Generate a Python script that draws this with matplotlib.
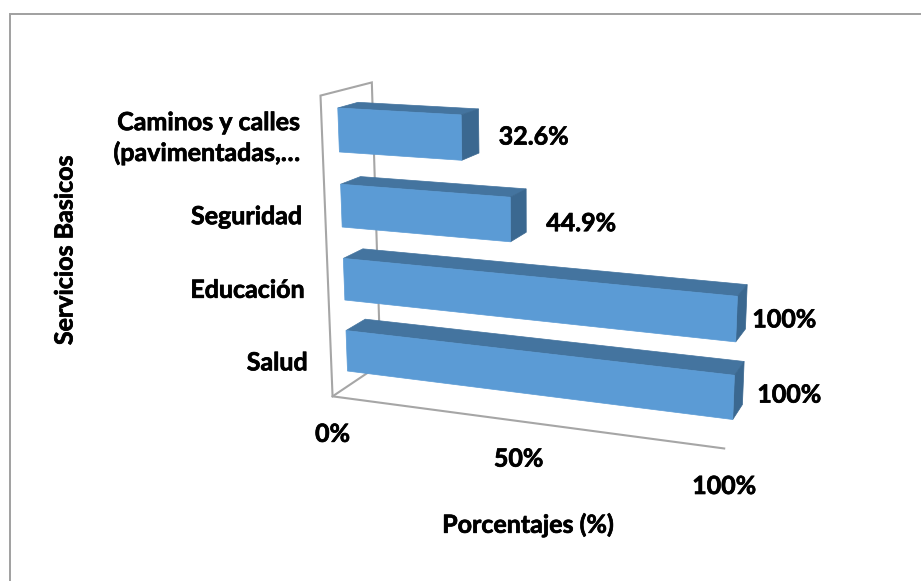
import numpy as np
import matplotlib
matplotlib.use("Agg")
import matplotlib.pyplot as plt
import matplotlib.patheffects as pe
from matplotlib.patches import Polygon

plt.rcParams['font.family'] = ['Lato', 'DejaVu Sans']

categories = ["Salud", "Educación", "Seguridad", "Caminos y calles\n(pavimentadas,…"]
values = [100, 100, 44.9, 32.6]
value_labels = ["100%", "100%", "44.9%", "32.6%"]
ticks = [0, 50, 100]
tick_labels = ["0%", "50%", "100%"]

# camera of the 3D box: (value, height, depth) -> pixels, fitted on the picture
CAMERA = np.array([
    [323.4057, -29.7876, 74.5039, 332.5620],
    [9.8796, -306.0533, -6.6510, 396.3466],
    [-0.094209, -0.055312, 0.069974, 1.0],
])
DEPTH_FRONT, DEPTH_BACK = 0.3089, 0.7055
BAR_START, BAR_STEP, BAR_HEIGHT = 0.0534, 0.2499, 0.1433

FRONT = "#5b9bd5"
TOP = "#44749f"
SIDE = "#3b6890"
GRID = "#a6a6a6"
FS = 18
# Lato bold is a bit lighter than the original font
HEAVY = [pe.withStroke(linewidth=0.5, foreground="black")]


def project(value, height, depth):
    x, y, w = CAMERA @ np.array([value / 100, height, depth, 1.0])
    return x / w, y / w


fig = plt.figure(figsize=(9.21, 5.81), dpi=100)
ax = fig.add_axes([0, 0, 1, 1])
ax.set_xlim(0, 921)
ax.set_ylim(581, 0)
ax.axis("off")

# outer chart border, only top and left show
ax.plot([921, 9.5, 9.5], [13.5, 13.5, 581], color="#a0a0a0", lw=1.4, solid_joinstyle="miter")

# walls of the box
wall = [project(0, 0, 1), project(0, 1, 1), project(0, 1, 0), project(0, 0, 0),
        project(100, 0, 0)]
ax.plot(*zip(*wall), color=GRID, lw=1.5, solid_joinstyle="miter", zorder=1)
ax.plot(*zip(project(0, 0, 0), project(0, 0, 1)), color=GRID, lw=1.5, zorder=1)

# back to front so the lower bars cover the ones behind
for i in reversed(range(len(values))):
    v = values[i]
    lo = BAR_START + i * BAR_STEP
    hi = lo + BAR_HEIGHT
    top = [project(0, hi, DEPTH_FRONT), project(v, hi, DEPTH_FRONT),
           project(v, hi, DEPTH_BACK), project(0, hi, DEPTH_BACK)]
    side = [project(v, hi, DEPTH_FRONT), project(v, lo, DEPTH_FRONT),
            project(v, lo, DEPTH_BACK), project(v, hi, DEPTH_BACK)]
    front = [project(0, hi, DEPTH_FRONT), project(v, hi, DEPTH_FRONT),
             project(v, lo, DEPTH_FRONT), project(0, lo, DEPTH_FRONT)]
    ax.add_patch(Polygon(top, closed=True, fc=TOP, ec=TOP, lw=0.5, zorder=2))
    ax.add_patch(Polygon(side, closed=True, fc=SIDE, ec=SIDE, lw=0.5, zorder=2))
    ax.add_patch(Polygon(front, closed=True, fc=FRONT, ec=FRONT, lw=0.5, zorder=3))

# data labels, offset from the far end of each bar
label_offsets = [(46, 12), (38, 13), (55, 13), (55, 6)]
for i, v in enumerate(values):
    mid = BAR_START + i * BAR_STEP + BAR_HEIGHT / 2
    x, y = project(v, mid, DEPTH_BACK)
    ax.text(x + label_offsets[i][0], y + label_offsets[i][1], value_labels[i],
            ha="center", va="center", fontsize=FS, fontweight="bold", color="black",
            path_effects=HEAVY)

# category labels, right aligned at the left of the wall
cat_offsets = [(-39, 12), (-39, 11), (-39, 11), (-38, 8)]
for i, name in enumerate(categories):
    mid = BAR_START + i * BAR_STEP + BAR_HEIGHT / 2
    x, y = project(0, mid, DEPTH_FRONT)
    ax.text(x + cat_offsets[i][0], y + cat_offsets[i][1], name, ha="right", va="center",
            multialignment="right", fontsize=FS, fontweight="bold", color="black", linespacing=1.37,
            path_effects=HEAVY)

# value axis ticks
for t, lab in zip(ticks, tick_labels):
    x, y = project(t, 0, 0)
    ax.text(x, y + 38, lab, ha="center", va="center", fontsize=FS, fontweight="bold", color="black",
            path_effects=HEAVY)

ax.text(528, 525, "Porcentajes (%)", ha="center", va="center", fontsize=FS, fontweight="bold",
        path_effects=HEAVY)
ax.text(65, 250, "Servicios Basicos", ha="center", va="center", rotation=90, fontsize=FS,
        fontweight="bold", path_effects=HEAVY)

fig.savefig("out.png", dpi=100)
